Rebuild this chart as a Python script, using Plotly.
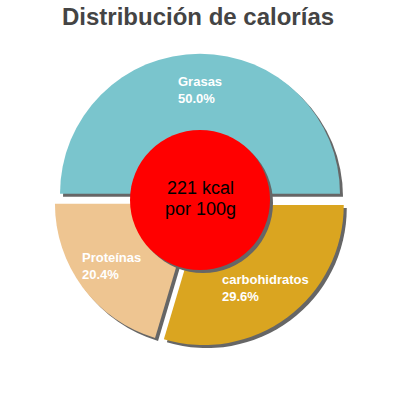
import math
import plotly.graph_objects as go

labels = ["Grasas", "carbohidratos", "Proteínas"]
values = [50.0, 29.6, 20.4]
colors = ["#7AC5CD", "#DAA520", "#EEC591"]
title_text = "Distribución de calorías"
center_text = ["221 kcal", "por 100g"]

W = H = 400
R = 140.0          # slice radius in px
PULL = 0.045
CX, CY = 200.0, 200.0
SH = 3.0           # shadow offset px
half = R * (1 + PULL)


def px_x(x):
    return x / W


def px_y(y):
    return 1 - y / H


def dom(cx, cy):
    return dict(x=[px_x(cx - half), px_x(cx + half)],
                y=[px_y(cy + half), px_y(cy - half)])


fig = go.Figure()
# shadow pie
fig.add_trace(go.Pie(
    labels=labels, values=values, sort=False, direction="clockwise",
    rotation=270, pull=[PULL] * len(values), textinfo="none",
    marker=dict(colors=["#666666"] * len(values), line=dict(width=0)),
    domain=dom(CX + SH, CY + SH), hoverinfo="skip", showlegend=False))
# main pie
fig.add_trace(go.Pie(
    labels=labels, values=values, sort=False, direction="clockwise",
    rotation=270, pull=[PULL] * len(values), textinfo="none",
    marker=dict(colors=colors, line=dict(width=0)),
    domain=dom(CX, CY), hoverinfo="skip", showlegend=False))

annotations = []
total = sum(values)
cum = 0.0
for lab, v in zip(labels, values):
    mid = (cum + v / 2) / total
    cum += v
    th = math.radians(180 + 360 * mid)
    d = 110
    px = CX + d * math.cos(th)
    py = CY + d * math.sin(th)
    annotations.append(dict(
        x=px_x(px), y=px_y(py), xref="paper", yref="paper",
        text=f"<b>{lab}<br>{v / total * 100:.1f}%</b>", showarrow=False,
        align="left", xanchor="center", yanchor="middle",
        font=dict(family="Liberation Sans, Arial", size=13, color="white")))

annotations.append(dict(
    x=px_x(198), y=px_y(17), xref="paper", yref="paper",
    text=f"<b>{title_text}</b>", showarrow=False,
    xanchor="center", yanchor="middle",
    font=dict(family="Liberation Sans, Arial", size=24, color="#444444")))
for txt, yy in zip(center_text, [188.5, 208.5]):
    annotations.append(dict(
        x=px_x(CX), y=px_y(yy), xref="paper", yref="paper",
        text=txt, showarrow=False,
        xanchor="center", yanchor="middle",
        font=dict(family="Liberation Sans, Arial", size=18, color="black")))

rc = 70.0
shapes = [
    dict(type="circle", xref="paper", yref="paper", layer="above",
         x0=px_x(CX + SH - rc), x1=px_x(CX + SH + rc),
         y0=px_y(CY + SH + rc), y1=px_y(CY + SH - rc),
         fillcolor="#666666", line=dict(width=0)),
    dict(type="circle", xref="paper", yref="paper", layer="above",
         x0=px_x(CX - rc), x1=px_x(CX + rc),
         y0=px_y(CY + rc), y1=px_y(CY - rc),
         fillcolor="#FF0000", line=dict(width=0)),
]

fig.update_layout(
    width=W, height=H, margin=dict(l=0, r=0, t=0, b=0),
    paper_bgcolor="white", plot_bgcolor="white",
    annotations=annotations, shapes=shapes, showlegend=False)

fig.write_html("out.html", config={"displayModeBar": False},
               post_script="document.body.style.margin='0';")
